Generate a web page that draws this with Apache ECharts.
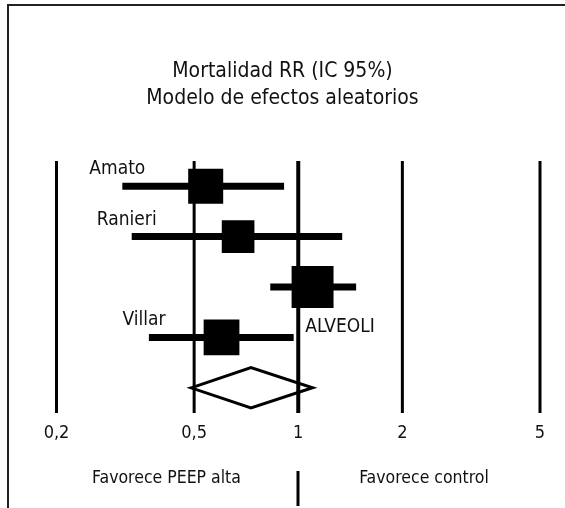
<!DOCTYPE html>
<html>
<head>
<meta charset="utf-8">
<script src="https://cdn.jsdelivr.net/npm/echarts@6/dist/echarts.min.js"></script>
<style>
  html, body { margin: 0; padding: 0; background: #fff; }
  #charts { width: 565px; height: 508px; }
</style>
</head>
<body>
<div id="charts"></div>
<script>
// 研究名称
const studies = ['Amato', 'Ranieri', 'ALVEOLI', 'Villar']
// RR 及 95% 置信区间
const rr = [0.54, 0.67, 1.10, 0.60]
const ciLow = [0.31, 0.33, 0.83, 0.37]
const ciHigh = [0.91, 1.34, 1.47, 0.97]
// 权重 (%)
const weights = [23, 20, 33, 24]
// 合并结果 (low, rr, high)
const pooled = [0.49, 0.73, 1.10]
// x轴刻度
const ticks = [0.2, 0.5, 1, 2, 5]
const tickLabels = ['0,2', '0,5', '1', '2', '5']

const FONT = "'DejaVu Sans Condensed', 'Liberation Sans Narrow', sans-serif"
const rows = studies.concat(['Total'])

const echart = echarts.init(document.getElementById('charts'), null, { renderer: 'canvas' })

// 垂直参考线 + 刻度文字
const gridLines = {
  type: 'custom',
  z: 3,
  data: ticks.map((v) => [v, 0]),
  renderItem: (params, api) => {
    const cs = params.coordSys
    const x = api.coord([api.value(0), 0])[0]
    const i = params.dataIndex
    return {
      type: 'group',
      children: [
        {
          type: 'line',
          shape: { x1: x, y1: cs.y, x2: x, y2: cs.y + cs.height },
          style: { stroke: '#000', lineWidth: ticks[i] === 1 ? 4 : 3 }
        },
        {
          type: 'text',
          x: x,
          y: cs.y + cs.height + 20,
          style: {
            text: tickLabels[i],
            fill: '#111',
            fontSize: 18,
            fontFamily: FONT,
            textAlign: 'center',
            textVerticalAlign: 'middle'
          }
        }
      ]
    }
  }
}

// 置信区间横线 + 研究名称
const ciSeries = {
  type: 'custom',
  z: 4,
  data: studies.map((s, i) => [ciLow[i], i, ciHigh[i]]),
  encode: { x: [0, 2], y: 1 },
  renderItem: (params, api) => {
    const i = params.dataIndex
    const p1 = api.coord([ciLow[i], i])
    const p2 = api.coord([ciHigh[i], i])
    const below = studies[i] === 'ALVEOLI'
    const ref = api.coord([1, i])
    return {
      type: 'group',
      children: [
        {
          type: 'rect',
          shape: { x: p1[0], y: p1[1] - 3.5, width: p2[0] - p1[0], height: 7 },
          style: { fill: '#000' }
        },
        {
          type: 'text',
          x: below ? ref[0] + 7 : p1[0] - 5,
          y: below ? ref[1] + 40 : p1[1] - 17,
          style: {
            text: studies[i],
            fill: '#111',
            fontSize: 19,
            fontFamily: FONT,
            textAlign: below ? 'left' : 'center',
            textVerticalAlign: 'middle'
          }
        }
      ]
    }
  }
}

// 合并效应菱形
const diamond = {
  type: 'custom',
  z: 2,
  data: [[pooled[0], 4, pooled[2]]],
  encode: { x: [0, 2], y: 1 },
  renderItem: (params, api) => {
    const l = api.coord([pooled[0], 4])
    const m = api.coord([pooled[1], 4])
    const r = api.coord([pooled[2], 4])
    const h = api.size([0, 1])[1] * 0.4
    return {
      type: 'polygon',
      shape: { points: [l, [m[0], m[1] - h], r, [m[0], m[1] + h]] },
      style: { fill: '#fff', stroke: '#000', lineWidth: 3 }
    }
  }
}

const option = {
  animation: false,
  backgroundColor: '#fff',
  title: {
    text: 'Mortalidad RR (IC 95%)\nModelo de efectos aleatorios',
    left: 'center',
    top: 53,
    textStyle: {
      fontFamily: FONT,
      fontWeight: 'normal',
      fontSize: 21,
      lineHeight: 27,
      color: '#111'
    }
  },
  grid: { left: 56.5, right: 25, top: 161, bottom: 95 },
  xAxis: { type: 'log', min: 0.2, max: 5, show: false },
  yAxis: { type: 'category', data: rows, inverse: true, show: false },
  graphic: [
    // 外框
    {
      type: 'polyline',
      shape: { points: [[8, 508], [8, 5], [565, 5]] },
      style: { fill: null, stroke: '#222', lineWidth: 2 }
    },
    {
      type: 'text',
      x: 166.5,
      y: 478,
      style: { text: 'Favorece PEEP alta', fontSize: 17.5, fontFamily: FONT, fill: '#111', textAlign: 'center', textVerticalAlign: 'middle' }
    },
    {
      type: 'text',
      x: 424,
      y: 478,
      style: { text: 'Favorece control', fontSize: 17.5, fontFamily: FONT, fill: '#111', textAlign: 'center', textVerticalAlign: 'middle' }
    },
    {
      type: 'line',
      shape: { x1: 298, y1: 471, x2: 298, y2: 506 },
      style: { stroke: '#000', lineWidth: 3 }
    }
  ],
  series: [
    diamond,
    gridLines,
    ciSeries,
    {
      type: 'scatter',
      z: 5,
      symbol: 'rect',
      symbolSize: (val, p) => 7.3 * Math.sqrt(weights[p.dataIndex]),
      itemStyle: { color: '#000', opacity: 1 },
      data: studies.map((s, i) => [rr[i], i])
    }
  ]
}
echart.setOption(option)
</script>
</body>
</html>
